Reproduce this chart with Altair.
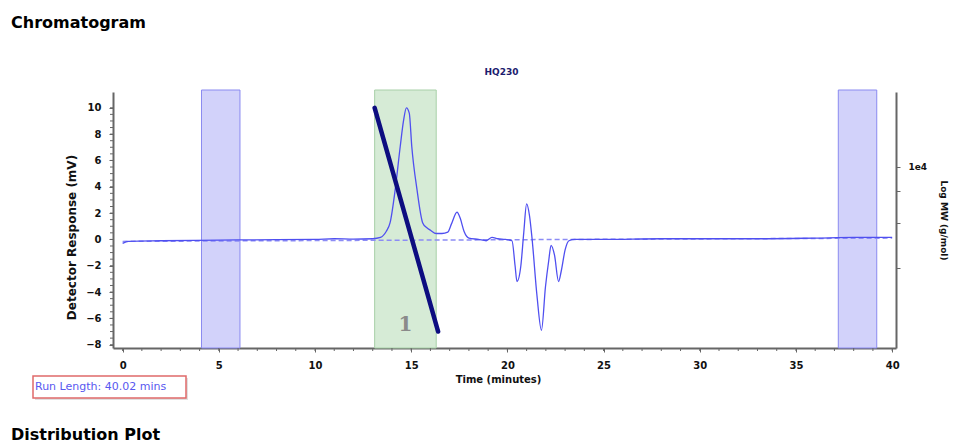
import altair as alt
import pandas as pd

# ---- data ----
time_min = [0.0, 0.3, 2.0, 5.0, 8.0, 10.0, 11.0, 12.0, 13.0, 13.4, 13.7, 13.9, 14.17, 14.43,
            14.6, 14.75, 14.9, 15.03, 15.3, 15.6, 15.8, 16.0, 16.3, 16.6, 16.9, 17.1, 17.38,
            17.55, 17.75, 18.0, 18.5, 18.9, 19.2, 19.5, 19.9, 20.24, 20.4, 20.5, 20.7, 20.85,
            21.0, 21.15, 21.28, 21.54, 21.77, 21.98, 22.15, 22.27, 22.45, 22.66, 22.8, 23.0,
            23.2, 23.5, 25.0, 28.0, 30.0, 33.0, 36.0, 38.0, 40.0]
response_mv = [-0.3, -0.15, -0.1, -0.05, -0.02, 0.0, 0.05, 0.02, 0.05, 0.15, 0.6, 1.25, 3.8, 7.06,
               9.0, 10.0, 9.6, 7.06, 3.8, 1.25, 0.9, 0.7, 0.45, 0.45, 0.55, 1.2, 2.08,
               1.6, 0.6, 0.1, 0.0, -0.1, 0.15, 0.05, 0.0, -0.1, -2.0, -3.2, -2.0, 0.5,
               2.7, 1.8, 0.1, -4.3, -6.9, -3.6, -1.6, -0.45, -1.2, -3.2, -2.4, -0.8,
               -0.1, 0.0, 0.0, 0.05, 0.05, 0.05, 0.1, 0.15, 0.15]

baseline_x = [0.0, 40.0]
baseline_y = [-0.15, 0.1]

blue_band_start = [4.1, 37.2]
blue_band_end = [6.1, 39.2]
green_band_start = [13.1]
green_band_end = [16.3]

calib_x = [13.1, 16.4]
calib_y = [10.0, -7.0]

peak_label_x = [14.7]
peak_label_y = [-6.5]
peak_label = ["1"]

x_major = [0, 5, 10, 15, 20, 25, 30, 35, 40]
x_minor = list(range(0, 41))
y_major = [-8, -6, -4, -2, 0, 2, 4, 6, 8, 10]
y_minor = [v / 2 for v in range(-16, 21)]
mw_ticks = [4000, 6000, 8000, 10000]

W, H = 783, 256
XDOM = [-0.5, 40.2]
YDOM = [-8.25, 11.2]
AXC = "#666666"
FONT = "DejaVu Sans"

sig = pd.DataFrame({"t": time_min, "v": response_mv})
base = pd.DataFrame({"t": baseline_x, "v": baseline_y})
blue = pd.DataFrame({"t": blue_band_start, "e": blue_band_end})
green = pd.DataFrame({"t": green_band_start, "e": green_band_end})
calib = pd.DataFrame({"t": calib_x, "v": calib_y})
lab = pd.DataFrame({"t": peak_label_x, "v": peak_label_y, "l": peak_label})
xmin = pd.DataFrame({"t": x_minor})
ymin = pd.DataFrame({"v": y_minor})
mw = pd.DataFrame({"m": mw_ticks})

xs = alt.Scale(domain=XDOM, nice=False, zero=False)
ys = alt.Scale(domain=YDOM, nice=False, zero=False)

x_axis = alt.Axis(values=x_major, title="Time (minutes)", grid=False, tickSize=4,
                  domainColor=AXC, domainWidth=2, tickColor=AXC, labelFont=FONT,
                  labelFontSize=10, labelFontWeight="bold", labelColor="#111",
                  labelPadding=8, titleFont=FONT, titleFontSize=10, titleFontWeight="bold",
                  titleColor="#111", titlePadding=4, titleX=385)
y_axis = alt.Axis(values=y_major, title="Detector Response (mV)", grid=False, tickSize=4,
                  domainColor=AXC, domainWidth=2, tickColor=AXC, labelFont=FONT,
                  labelFontSize=10, labelFontWeight="bold", labelColor="#111",
                  labelPadding=8, titleFont=FONT, titleFontSize=12, titleFontWeight="bold",
                  titleColor="#111", titlePadding=7, titleY=145)


def X(field="t:Q"):
    return alt.X(field, scale=xs, axis=x_axis)


def Y(field="v:Q", axis=None):
    return alt.Y(field, scale=ys, axis=axis)


blue_rects = alt.Chart(blue).mark_rect(fill="#d2d2fa", stroke="#8a8af0", strokeWidth=1).encode(
    x=X(), x2="e:Q", y=alt.value(-2), y2=alt.value(H))
green_rects = alt.Chart(green).mark_rect(fill="#d6ebd6", stroke="#a8d0a8", strokeWidth=1).encode(
    x=X(), x2="e:Q", y=alt.value(-2), y2=alt.value(H))
base_line = alt.Chart(base).mark_line(color="#8c8cf5", strokeWidth=1.5, strokeDash=[5, 3]).encode(
    x=X(), y=Y())
sig_line = alt.Chart(sig).mark_line(color="#4f4ff0", strokeWidth=1.3, interpolate="monotone").encode(
    x=X(), y=Y(axis=y_axis))
calib_line = alt.Chart(calib).mark_line(color="#0d0d80", strokeWidth=4.5, strokeCap="round").encode(
    x=X(), y=Y())
label = alt.Chart(lab).mark_text(font="DejaVu Serif", fontSize=20, fontWeight="bold",
                                 color="#8a8a8a").encode(x=X(), y=Y(), text="l:N")
x_minor_ticks = alt.Chart(xmin).mark_rule(color=AXC, strokeWidth=1).encode(
    x=X(), y=alt.value(H), y2=alt.value(H + 3))
y_minor_ticks = alt.Chart(ymin).mark_rule(color=AXC, strokeWidth=1).encode(
    y=Y(), x=alt.value(0), x2=alt.value(-3))

# annotations outside the plot area
title_hq = alt.Chart(pd.DataFrame({"l": ["HQ230"]})).mark_text(
    font=FONT, fontSize=9, fontWeight="bold", color="#1c1c6e").encode(
    x=alt.value(W / 2 - 3), y=alt.value(-20), text="l:N")
chrom = alt.Chart(pd.DataFrame({"l": ["Chromatogram"]})).mark_text(
    font=FONT, fontSize=16, fontWeight="bold", color="#000", align="left").encode(
    x=alt.value(-102), y=alt.value(-69), text="l:N")
dist = alt.Chart(pd.DataFrame({"l": ["Distribution Plot"]})).mark_text(
    font=FONT, fontSize=16, fontWeight="bold", color="#000", align="left").encode(
    x=alt.value(-102), y=alt.value(343), text="l:N")
run_shadow = alt.Chart(pd.DataFrame({"a": [0]})).mark_rect(
    fill="#d8d8d8", opacity=0.8).encode(
    x=alt.value(-78), x2=alt.value(75), y=alt.value(286), y2=alt.value(308))
run_box = alt.Chart(pd.DataFrame({"a": [0]})).mark_rect(
    fill="white", stroke="#e06a6a", strokeWidth=1.5).encode(
    x=alt.value(-80), x2=alt.value(73), y=alt.value(284), y2=alt.value(306))
run_txt = alt.Chart(pd.DataFrame({"l": ["Run Length: 40.02 mins"]})).mark_text(
    font=FONT, fontSize=11, color="#5858f0", align="left").encode(
    x=alt.value(-78), y=alt.value(295), text="l:N")

right = alt.Chart(mw).mark_point(opacity=0).encode(
    y=alt.Y("m:Q", scale=alt.Scale(type="log", domain=[1950, 19600], nice=False),
            axis=alt.Axis(orient="right", values=mw_ticks, title="Log MW (g/mol)",
                          labelExpr="datum.value == 10000 ? '1e4' : ''", grid=False,
                          tickSize=4, domainColor=AXC, domainWidth=2, tickColor=AXC,
                          labelFont=FONT, labelFontSize=9, labelFontWeight="bold",
                          labelColor="#111", labelPadding=8, titleFont=FONT, titleFontSize=9,
                          titleFontWeight="bold", titleColor="#111", titlePadding=12)))

chart = alt.layer(blue_rects, green_rects, base_line, sig_line, calib_line, label,
                  x_minor_ticks, y_minor_ticks, title_hq, chrom, dist, run_shadow, run_box,
                  run_txt, right).resolve_scale(y="independent").properties(
    width=W, height=H,
    autosize=alt.AutoSizeParams(type="none"),
    padding={"left": 113, "top": 92, "right": 59, "bottom": 95},
).configure_view(stroke=None)

chart.save("out.html", embed_options={"renderer": "svg", "actions": False})
